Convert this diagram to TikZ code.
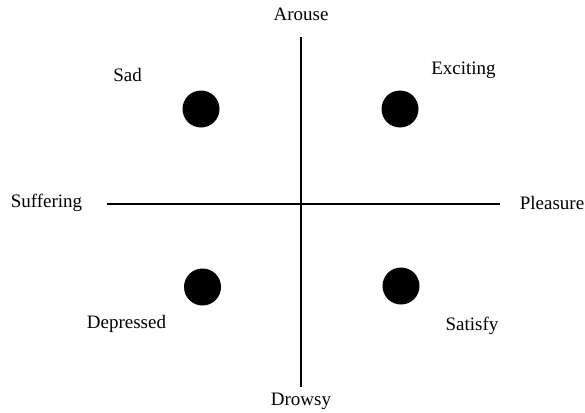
\documentclass[tikz,border=0pt]{standalone}
\usepackage{fontspec}
\setmainfont{Liberation Serif}
\begin{document}
\begin{tikzpicture}[x=1pt,y=-1pt,
  lbl/.style={font=\fontsize{19}{22}\selectfont, inner sep=0pt},
  dot/.style={circle, fill=black, minimum size=37pt, inner sep=0pt},
  axis/.style={line width=1.6pt}]
\useasboundingbox (0,0) rectangle (585,412);
\coordinate (top) at (301,37);
\coordinate (bot) at (301,387);
\coordinate (left) at (107,204);
\coordinate (right) at (500,204);
\draw[axis] (top) -- (bot);
\draw[axis] (left) -- (right);
\node[dot] (d1) at (201,109) {};
\node[dot] (d2) at (400,109) {};
\node[dot] (d3) at (202.5,287) {};
\node[dot] (d4) at (401,286) {};
\node[lbl] (arouse) at (301,14) {Arouse};
\node[lbl] (drowsy) at (301,401) {Drowsy};
\node[lbl] (suff) at (46.5,203) {Suffering};
\node[lbl] (pleas) at (552,203) {Pleasure};
\node[lbl] (sad) at (127.5,75) {Sad};
\node[lbl] (exc) at (463.5,70) {Exciting};
\node[lbl] (dep) at (126.5,324) {Depressed};
\node[lbl] (sat) at (472,326) {Satisfy};
\end{tikzpicture}
\end{document}
